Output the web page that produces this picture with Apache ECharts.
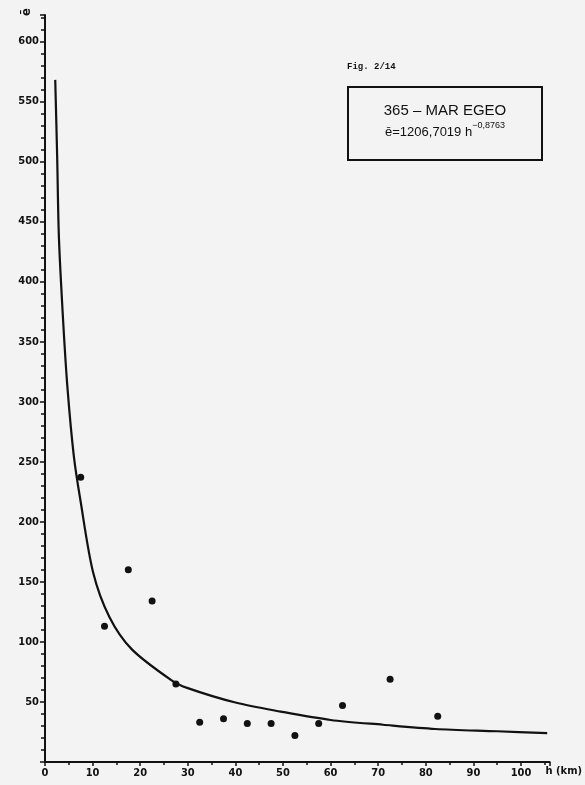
<!DOCTYPE html>
<html>
<head>
<meta charset="utf-8">
<script src="https://cdn.jsdelivr.net/npm/echarts@6/dist/echarts.min.js"></script>
<style>
  html, body { margin: 0; padding: 0; background: #f3f3f3; }
  #chart { width: 585px; height: 785px; }
</style>
</head>
<body>
<div id="chart"></div>
<script>
// Observed points (class midpoints of h in km, mean value ē)
const hKm = [7.5, 12.5, 17.5, 22.5, 27.5, 32.5, 37.5, 42.5, 47.5, 52.5, 57.5, 62.5, 72.5, 82.5];
const eObs = [237, 113, 160, 134, 65, 33, 36, 32, 32, 22, 32, 47, 69, 38];

// Fitted curve as drawn in the figure
const curveH = [2.15, 2.55, 2.93, 3.83, 4.75, 6.05, 7.4, 10.1, 13.5, 18.2, 26.6, 30, 40, 49.5, 60, 71, 82, 95, 105.5];
const curveE = [568, 505, 436, 366, 310, 255, 219, 158, 121, 94, 68, 61.5, 49.5, 42, 35, 31, 27.5, 25.6, 24];

const figLabel = 'Fig. 2/14';
const boxTitle = '365 – MAR EGEO';
const boxFormula = 'ē=1206,7019 h';
const boxExponent = '−0,8763';
const yName = 'ē';
const xName = 'h (km)';

const ink = '#111111';
const tickFont = 'DejaVu Sans Condensed, DejaVu Sans, sans-serif';

const chart = echarts.init(document.getElementById('chart'), null, { renderer: 'canvas' });

chart.setOption({
  backgroundColor: '#f3f3f3',
  animation: false,
  grid: { left: 45, right: 33, top: 15, bottom: 23, containLabel: false },
  xAxis: {
    type: 'value',
    min: 0,
    max: 106,
    interval: 10,
    name: xName,
    nameLocation: 'end',
    nameGap: -4,
    nameTextStyle: { color: ink, fontFamily: tickFont, fontSize: 11, fontWeight: 'bold', align: 'left', verticalAlign: 'top', padding: [4, 0, 0, 0] },
    axisLine: { show: true, onZero: false, lineStyle: { color: ink, width: 2 } },
    axisTick: { show: true, length: 4, lineStyle: { color: ink, width: 1.5 } },
    minorTick: { show: true, splitNumber: 2, length: 3, lineStyle: { color: ink, width: 1.5 } },
    axisLabel: {
      color: ink, fontFamily: tickFont, fontSize: 11, fontWeight: 'bold', margin: 6,
      showMaxLabel: false,
      formatter: v => (v > 100 ? '' : String(v))
    },
    splitLine: { show: false },
    minorSplitLine: { show: false }
  },
  yAxis: {
    type: 'value',
    min: 0,
    max: 622,
    interval: 50,
    axisLine: { show: true, onZero: false, lineStyle: { color: ink, width: 2 } },
    axisTick: { show: true, length: 5, lineStyle: { color: ink, width: 1.5 } },
    minorTick: { show: true, splitNumber: 5, length: 4, lineStyle: { color: ink, width: 1.5 } },
    axisLabel: {
      color: ink, fontFamily: tickFont, fontSize: 11, fontWeight: 'bold', margin: 6,
      showMaxLabel: false,
      formatter: v => (v === 0 || v > 600 ? '' : String(v))
    },
    splitLine: { show: false },
    minorSplitLine: { show: false }
  },
  series: [
    {
      type: 'line',
      name: 'curve',
      data: curveH.map((h, i) => [h, curveE[i]]),
      showSymbol: false,
      smooth: 0.3,
      lineStyle: { color: ink, width: 2.2 },
      silent: true,
      z: 2
    },
    {
      type: 'scatter',
      name: 'observed',
      data: hKm.map((h, i) => [h, eObs[i]]),
      symbol: 'circle',
      symbolSize: 7,
      itemStyle: { color: ink, opacity: 1 },
      z: 3
    }
  ],
  graphic: [
    {
      type: 'text',
      left: 20, top: 8,
      rotation: Math.PI / 2,
      style: { text: yName, fill: ink, font: 'bold 13px ' + tickFont }
    },
    {
      type: 'text',
      left: 347, top: 62,
      style: { text: figLabel, fill: ink, font: 'bold 9px "Liberation Mono", "DejaVu Sans Mono", monospace' }
    },
    {
      type: 'rect',
      shape: { x: 348, y: 87, width: 194, height: 73 },
      style: { fill: 'none', stroke: ink, lineWidth: 2 }
    },
    {
      type: 'text',
      x: 445, y: 111,
      style: {
        text: boxTitle, fill: ink, align: 'center', verticalAlign: 'middle',
        font: '15px "Liberation Sans", Arial, sans-serif'
      }
    },
    {
      type: 'text',
      x: 445, y: 130,
      style: {
        text: '{m|' + boxFormula + '}{s|' + boxExponent + '}',
        align: 'center', verticalAlign: 'middle',
        rich: {
          m: { fill: ink, fontSize: 13, fontFamily: '"Liberation Sans", Arial, sans-serif', lineHeight: 18, verticalAlign: 'bottom' },
          s: { fill: ink, fontSize: 9, fontFamily: '"Liberation Sans", Arial, sans-serif', lineHeight: 18, verticalAlign: 'top' }
        }
      }
    }
  ]
});
</script>
</body>
</html>
